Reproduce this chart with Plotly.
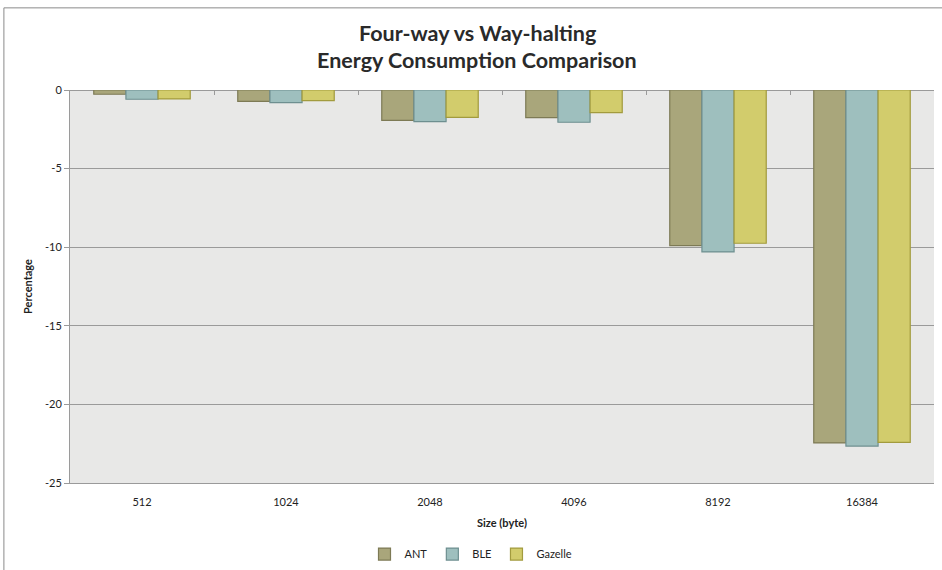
import plotly.graph_objects as go

sizes = ["512", "1024", "2048", "4096", "8192", "16384"]
ant = [-0.27, -0.72, -1.93, -1.76, -9.9, -22.45]
ble = [-0.59, -0.8, -2.01, -2.05, -10.3, -22.65]
gazelle = [-0.57, -0.68, -1.74, -1.44, -9.75, -22.42]

y_ticks = [0, -5, -10, -15, -20, -25]
y_tick_text = ["0", "-5", "-10", "-15", "-20", "-25"]

series = [
    ("ANT", ant, "#a9a67b", "#7d7a55"),
    ("BLE", ble, "#9ebfbe", "#6e8f90"),
    ("Gazelle", gazelle, "#d2cc6c", "#a29b3e"),
]

font_family = "Lato, 'Open Sans', sans-serif"
n = len(sizes)

fig = go.Figure()
for name, vals, fill, edge in series:
    fig.add_trace(go.Bar(
        x=sizes, y=vals, name=name,
        marker=dict(color=fill, line=dict(color=edge, width=1.2)),
    ))

# invisible helper trace on a linear overlay axis carrying the
# category-boundary tick marks along the zero line
fig.add_trace(go.Scatter(
    x=list(range(n)), y=[0] * n, xaxis="x2", mode="markers",
    marker=dict(opacity=0), showlegend=False, hoverinfo="skip",
))

fig.update_layout(
    width=942, height=570,
    margin=dict(l=70, r=8, t=90, b=87, autoexpand=False),
    paper_bgcolor="white",
    plot_bgcolor="#e8e8e7",
    barmode="group",
    bargap=0.33,
    bargroupgap=0,
    font=dict(family=font_family, size=11, color="#222"),
    showlegend=True,
    legend=dict(
        orientation="h", x=0.5, xanchor="center", xref="container",
        y=0.028, yanchor="middle", yref="container",
        font=dict(size=11), itemwidth=30, traceorder="normal",
    ),
    xaxis=dict(
        type="category",
        showgrid=False,
        showline=True, linecolor="#9a9a9a", linewidth=1,
        ticks="outside", ticklen=9, tickcolor="rgba(0,0,0,0)",
        tickfont=dict(size=11),
        title=dict(text="<b>Size (byte)</b>", font=dict(size=11), standoff=12),
        automargin=False,
    ),
    xaxis2=dict(
        overlaying="x", side="top", range=[-0.5, n - 0.5],
        tickvals=[i + 0.5 for i in range(n)],
        showgrid=False, showline=False, showticklabels=False, zeroline=False,
        ticks="inside", ticklen=5, tickwidth=1,
        tickcolor="#9a9a9a", automargin=False,
    ),
    yaxis=dict(
        range=[-25, 0],
        tickvals=y_ticks, ticktext=y_tick_text,
        showgrid=True, gridcolor="#9a9a9a", gridwidth=1,
        showline=True, linecolor="#9a9a9a", linewidth=1,
        ticks="outside", ticklen=5, tickcolor="#9a9a9a",
        zeroline=True, zerolinecolor="#9a9a9a", zerolinewidth=1,
        tickfont=dict(size=11),
        title=dict(text="<b>Percentage</b>", font=dict(size=11), standoff=10),
        automargin=False,
    ),
)

# two-line bold chart title
fig.add_annotation(
    text="<b>Four-way vs Way-halting</b>", xref="paper", yref="paper",
    x=0.4716, y=1.145, xanchor="center", yanchor="middle", showarrow=False,
    font=dict(family=font_family, size=21.5, color="#2a2a2a"),
)
fig.add_annotation(
    text="<b>Energy Consumption Comparison</b>", xref="paper", yref="paper",
    x=0.4716, y=1.076, xanchor="center", yanchor="middle", showarrow=False,
    font=dict(family=font_family, size=21.5, color="#2a2a2a"),
)

# outer chart frame
fig.add_shape(type="line", xref="paper", yref="paper",
              x0=-0.0765, x1=1.1, y0=1.209, y1=1.209,
              line=dict(color="#8a8a8a", width=1))
fig.add_shape(type="line", xref="paper", yref="paper",
              x0=-0.0765, x1=-0.0765, y0=1.209, y1=-0.3,
              line=dict(color="#8a8a8a", width=1))

fig.write_html("out.html")
